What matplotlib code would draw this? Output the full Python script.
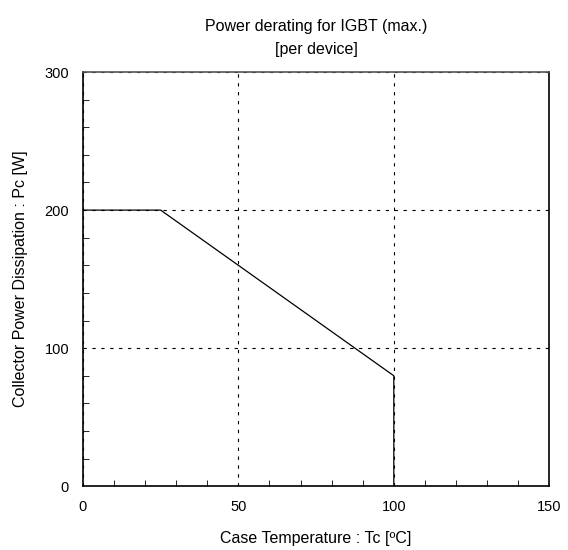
import matplotlib
matplotlib.use("Agg")
import matplotlib.pyplot as plt
from matplotlib.ticker import MultipleLocator

plt.rcParams['font.family'] = ['Liberation Sans', 'DejaVu Sans']

# derating curve (Tc, Pc)
tc = [0, 25, 100, 100]
pc = [200, 200, 80, 0]

xticks = [0, 50, 100, 150]
yticks = [0, 100, 200, 300]

fig = plt.figure(figsize=(5.68, 5.5), dpi=100)
ax = fig.add_axes([0.146, 0.116, 0.821, 0.753])

ax.plot(tc, pc, color="black", linewidth=0.9)

ax.set_xlim(0, 150)
ax.set_ylim(0, 300)
ax.set_xticks(xticks)
ax.set_yticks(yticks)
ax.xaxis.set_minor_locator(MultipleLocator(10))
ax.yaxis.set_minor_locator(MultipleLocator(20))
ax.tick_params(which="both", direction="in", labelsize=10.5)
ax.tick_params(which="major", length=0, pad=10)
ax.tick_params(which="minor", length=4)
ax.grid(True, which="major", linestyle=(0, (3, 5)), color="black", linewidth=0.8)

for s in ax.spines.values():
    s.set_linewidth(1.2)
ax.spines["top"].set_color("#555555")

ax.set_xlabel("Case Temperature : Tc [ºC]", fontsize=11.5, labelpad=12)
ax.set_ylabel("Collector Power Dissipation : Pc [W]", fontsize=11.5, labelpad=12)
ax.set_title("Power derating for IGBT (max.)\n[per device]", fontsize=11.5,
             linespacing=1.7, pad=13)

fig.savefig("out.png", dpi=100)
